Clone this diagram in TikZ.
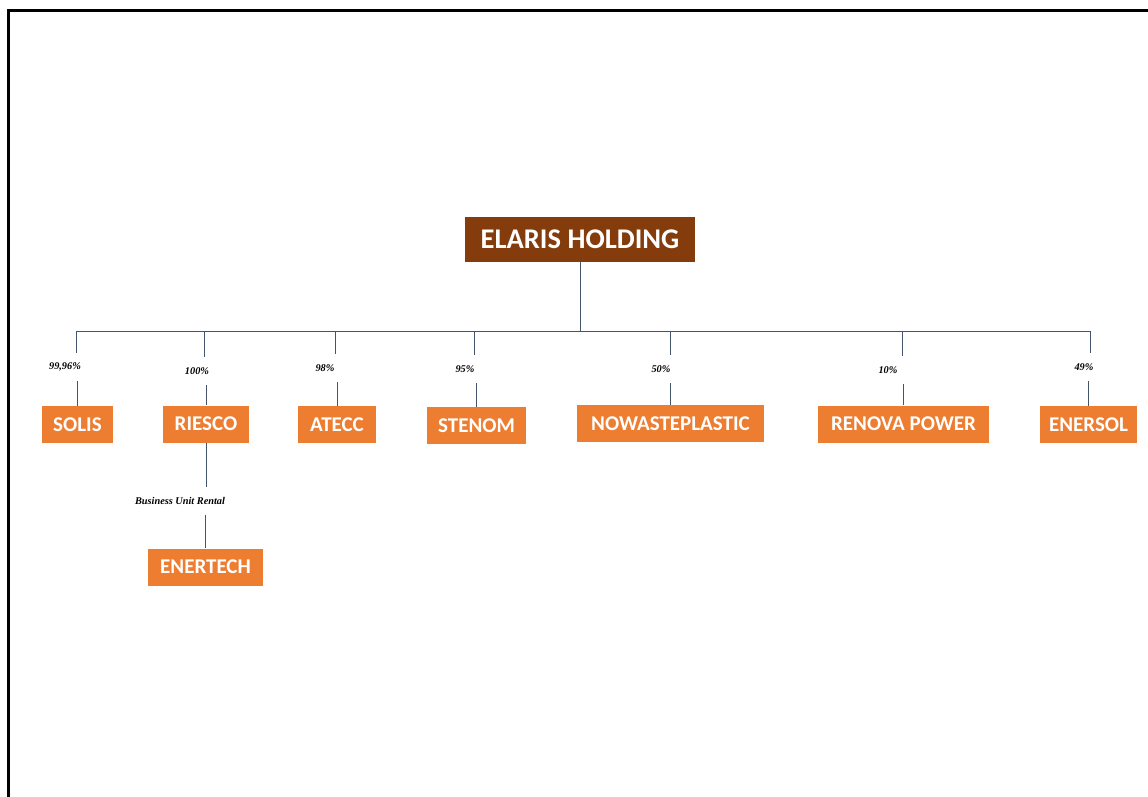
\documentclass[tikz,border=0pt]{standalone}
\usepackage{fontspec}
\setmainfont{Carlito}
\newfontfamily\lblfont{Liberation Serif}
\definecolor{orangebox}{HTML}{ED7D31}
\definecolor{brownbox}{HTML}{843C0C}
\definecolor{linec}{HTML}{44546A}
\begin{document}
\begin{tikzpicture}[x=1pt,y=-1pt,
  conn/.style={draw=linec, line width=1pt},
  sub/.style={fill=orangebox, text=white, font=\fontsize{21}{21}\selectfont\bfseries, inner sep=0pt, minimum height=37pt},
  pct/.style={font=\lblfont\fontsize{10.3}{10.3}\selectfont\bfseries\itshape, inner sep=0pt, minimum height=28pt}]
\useasboundingbox (0,0) rectangle (1148,796);
\fill[white] (0,0) rectangle (1148,796);
\draw[line width=3pt] (8,820) -- (8,10) -- (1170,10);

\node[fill=brownbox, text=white, font=\fontsize{28.5}{28.5}\selectfont\bfseries, inner sep=0pt, minimum width=230pt, minimum height=45pt] (elaris) at (580,239.5) {ELARIS HOLDING};

\coordinate (top) at (580,331);
\coordinate (bA) at (76,331);
\coordinate (bB) at (204,331);
\coordinate (bC) at (335,331);
\coordinate (bD) at (474,331);
\coordinate (bE) at (670,331);
\coordinate (bF) at (902,331);
\coordinate (bG) at (1090,331);

\node[sub, minimum width=71pt] (solis) at (77.5,424.5) {SOLIS};
\node[sub, minimum width=86pt] (riesco) at (206,424) {RIESCO};
\node[sub, minimum width=78pt] (atecc) at (337,424.5) {ATECC};
\node[sub, minimum width=99pt] (stenom) at (476.5,425.5) {STENOM};
\node[sub, minimum width=187pt] (nowaste) at (670.5,423.5) {NOWASTEPLASTIC};
\node[sub, minimum width=171pt] (renova) at (903.5,424) {RENOVA POWER};
\node[sub, minimum width=97pt] (enersol) at (1088.5,424.5) {ENERSOL};
\node[sub, minimum width=115pt] (enertech) at (205.5,567) {ENERTECH};

\node[pct] (pA) at (65,367) {99,96\%};
\node[pct] (pB) at (197,371) {100\%};
\node[pct] (pC) at (325,368) {98\%};
\node[pct] (pD) at (465,369) {95\%};
\node[pct] (pE) at (661,369) {50\%};
\node[pct] (pF) at (888,370) {10\%};
\node[pct] (pG) at (1084,367) {49\%};
\node[pct, minimum height=27pt] (pH) at (180,501) {Business Unit Rental};

\draw[conn] (elaris.south) -- (top);
\draw[conn] (bA) -- (bG);
\draw[conn] (bA) -- (bA |- pA.north);
\draw[conn] (solis.north |- pA.south) -- (solis.north);
\draw[conn] (bB) -- (bB |- pB.north);
\draw[conn] (riesco.north |- pB.south) -- (riesco.north);
\draw[conn] (bC) -- (bC |- pC.north);
\draw[conn] (atecc.north |- pC.south) -- (atecc.north);
\draw[conn] (bD) -- (bD |- pD.north);
\draw[conn] (stenom.north |- pD.south) -- (stenom.north);
\draw[conn] (bE) -- (bE |- pE.north);
\draw[conn] (nowaste.north |- pE.south) -- (nowaste.north);
\draw[conn] (bF) -- (bF |- pF.north);
\draw[conn] (renova.north |- pF.south) -- (renova.north);
\draw[conn] (bG) -- (bG |- pG.north);
\draw[conn] (enersol.north |- pG.south) -- (enersol.north);
\draw[conn] (riesco.south) -- (riesco.south |- pH.north);
\draw[conn] (enertech.north |- pH.south) -- (enertech.north);
\end{tikzpicture}
\end{document}
